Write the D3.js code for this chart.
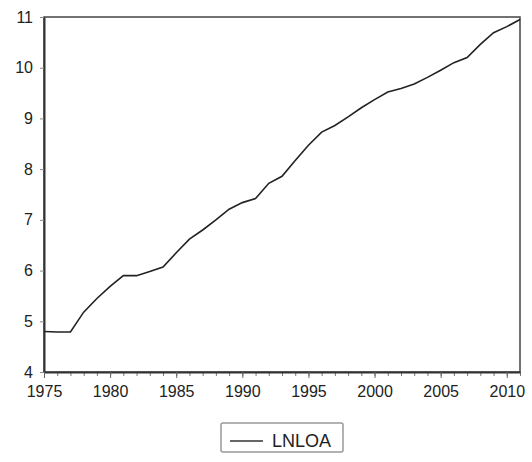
<!DOCTYPE html>
<html>
<head>
<meta charset="utf-8">
<script src="https://cdn.jsdelivr.net/npm/d3@7"></script>
<style>
  body { margin: 0; background: #fff; }
  text { font-family: "Liberation Sans", Arial, sans-serif; fill: #222; }
</style>
</head>
<body>
<div id="chart-area"></div>
<script>
/* Data */
const years = d3.range(1975, 2012);
const lnloa = [
  4.80, 4.79, 4.79, 5.18, 5.45, 5.69, 5.90, 5.90, 5.98, 6.07,
  6.35, 6.62, 6.80, 7.00, 7.21, 7.34, 7.42, 7.72, 7.86, 8.17,
  8.47, 8.73, 8.86, 9.03, 9.21, 9.37, 9.52, 9.59, 9.68, 9.81,
  9.95, 10.10, 10.20, 10.46, 10.69, 10.81, 10.95
];
const yTicks = [4, 5, 6, 7, 8, 9, 10, 11];
const xTicks = [1975, 1980, 1985, 1990, 1995, 2000, 2005, 2010];
const seriesName = 'LNLOA';

/* SVG */
const margin = { left: 44, right: 12, top: 17, bottom: 90 };
const width  = 532 - margin.left - margin.right;
const height = 462 - margin.top  - margin.bottom;

const svg = d3.select('#chart-area')
    .append('svg')
    .attr('width', 532)
    .attr('height', 462);

const g = svg.append('g')
    .attr('transform', `translate(${margin.left}, ${margin.top})`);

/* Scales */
const x = d3.scaleLinear().domain([1975, 2011]).range([0, width]);
const y = d3.scaleLinear().domain([4, 11]).range([height, 0]);

/* Frame */
g.append('rect')
    .attr('width', width).attr('height', height)
    .attr('fill', 'none')
    .attr('stroke', '#444')
    .attr('stroke-width', 1.5);

/* Axis */
const yAxis = g.append('g')
    .call(d3.axisLeft(y).tickValues(yTicks).tickSize(4).tickPadding(7)
        .tickFormat(d3.format('d')).tickSizeOuter(0));
yAxis.select('.domain').attr('stroke', '#333').attr('stroke-width', 2);
yAxis.selectAll('.tick line').attr('stroke', '#888');
yAxis.selectAll('text').attr('font-size', '16px').attr('fill', '#222');

const xMinor = g.append('g')
    .attr('transform', `translate(0,${height})`)
    .call(d3.axisBottom(x).tickValues(years).tickSize(4).tickFormat('').tickSizeOuter(0));
xMinor.select('.domain').remove();
xMinor.selectAll('.tick line').attr('stroke', '#777');

const xAxis = g.append('g')
    .attr('transform', `translate(0,${height})`)
    .call(d3.axisBottom(x).tickValues(xTicks).tickSize(6).tickPadding(8)
        .tickFormat(d3.format('d')).tickSizeOuter(0));
xAxis.select('.domain').attr('stroke', '#333').attr('stroke-width', 2);
xAxis.selectAll('.tick line').attr('stroke', '#666');
xAxis.selectAll('text').attr('font-size', '16px').attr('fill', '#222');

/* Line */
const line = d3.line()
    .x((d, i) => x(years[i]))
    .y(d => y(d));

g.append('path')
    .datum(lnloa)
    .attr('fill', 'none')
    .attr('stroke', '#222')
    .attr('stroke-width', 1.6)
    .attr('d', line);

/* Legend */
const legend = svg.append('g').attr('transform', 'translate(221, 423)');
legend.append('rect')
    .attr('width', 122).attr('height', 29)
    .attr('rx', 2)
    .attr('fill', '#fff')
    .attr('stroke', '#999')
    .attr('stroke-width', 1.5);
legend.append('line')
    .attr('x1', 9).attr('x2', 42)
    .attr('y1', 18).attr('y2', 18)
    .attr('stroke', '#333').attr('stroke-width', 1.6);
legend.append('text')
    .attr('x', 51).attr('y', 24)
    .attr('font-size', '18px')
    .text(seriesName);
</script>
</body>
</html>
